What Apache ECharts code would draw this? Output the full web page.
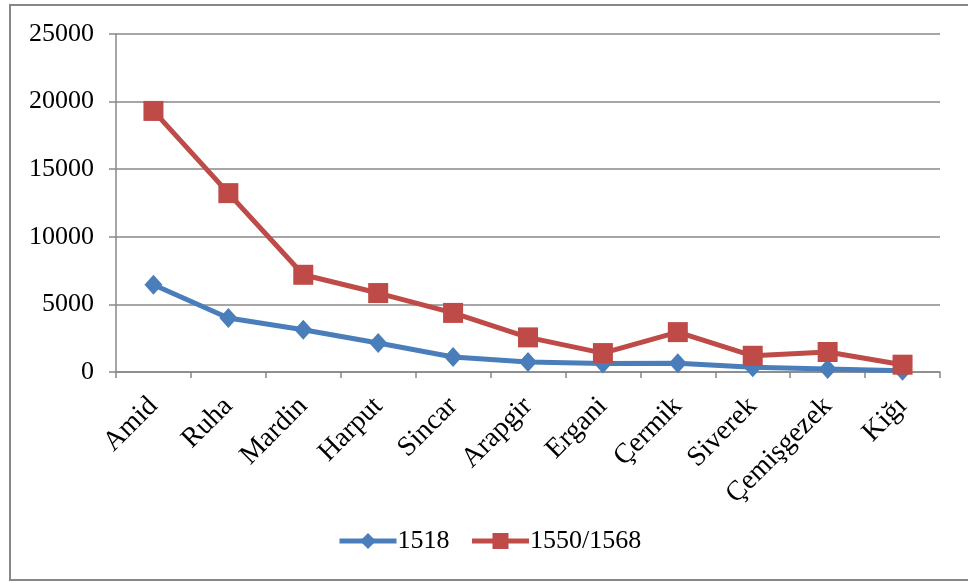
<!DOCTYPE html>
<html>
<head>
<meta charset="utf-8">
<script src="https://cdn.jsdelivr.net/npm/echarts@6/dist/echarts.min.js"></script>
<style>
html,body{margin:0;padding:0;background:#fff;}
#chart{width:968px;height:583px;}
</style>
</head>
<body>
<div id="chart"></div>
<script>
const categories = ["Amid","Ruha","Mardin","Harput","Sincar","Arapgir","Ergani","Çermik","Siverek","Çemişgezek","Kiğı"];
const series1518 = [6450, 3990, 3130, 2140, 1110, 740, 620, 650, 350, 220, 100];
const series1550 = [19310, 13230, 7190, 5840, 4370, 2560, 1400, 2950, 1200, 1480, 540];
const yTicks = {min: 0, max: 25000, interval: 5000};

const FONT = "'Liberation Serif', 'Times New Roman', serif";
const chart = echarts.init(document.getElementById('chart'), null, {renderer: 'canvas'});
chart.setOption({
  backgroundColor: '#fff',
  animation: false,
  graphic: [{
    type: 'rect',
    shape: {x: 10, y: 5, width: 970, height: 575},
    style: {fill: 'none', stroke: '#878787', lineWidth: 2},
    silent: true
  }],
  grid: {left: 116, right: 28, top: 34, bottom: 211, containLabel: false},
  legend: {
    bottom: 24,
    left: 332,
    itemWidth: 57,
    itemHeight: 20,
    itemGap: 20,
    lineStyle: {width: 5},
    textStyle: {fontFamily: FONT, fontSize: 26, color: '#000', padding: [0, 0, 0, -4]},
    data: ['1518', '1550/1568']
  },
  xAxis: {
    type: 'category',
    data: categories,
    boundaryGap: true,
    axisLine: {lineStyle: {color: '#888', width: 1.5}},
    axisTick: {show: true, alignWithLabel: false, length: 6, lineStyle: {color: '#888', width: 1.5}},
    axisLabel: {rotate: 45, margin: 30, interval: 0, fontFamily: FONT, fontSize: 28, color: '#000'},
    splitLine: {show: false}
  },
  yAxis: {
    type: 'value',
    min: yTicks.min, max: yTicks.max, interval: yTicks.interval,
    axisLine: {show: true, lineStyle: {color: '#888', width: 1.5}},
    axisTick: {show: true, length: 7, lineStyle: {color: '#888', width: 1.5}},
    axisLabel: {margin: 22, fontFamily: FONT, fontSize: 26, color: '#000', formatter: function (v) { return String(v); }},
    splitLine: {show: true, lineStyle: {color: '#888', width: 1.5}}
  },
  series: [
    {
      name: '1518', type: 'line', data: series1518,
      symbol: 'diamond', symbolSize: [18, 20],
      lineStyle: {color: '#4A7EBB', width: 5},
      itemStyle: {color: '#4A7EBB'},
      z: 3
    },
    {
      name: '1550/1568', type: 'line', data: series1550,
      symbol: 'rect', symbolSize: 20,
      lineStyle: {color: '#BE4B48', width: 5},
      itemStyle: {color: '#BE4B48'},
      z: 4
    }
  ]
});
</script>
</body>
</html>
